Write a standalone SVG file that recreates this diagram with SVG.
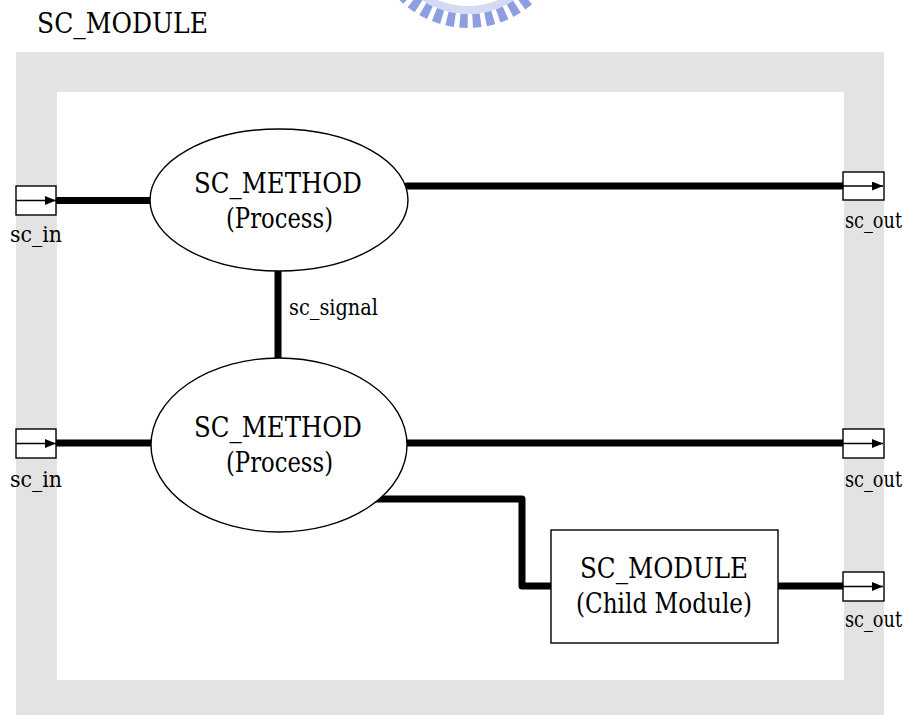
<svg xmlns="http://www.w3.org/2000/svg" width="910" height="715" viewBox="0 0 910 715">
  <style>
    text { font-family: "DejaVu Serif", "Liberation Serif", serif; fill: #000; }
    .big { font-size: 27px; }
    .small { font-size: 22px; }
    .shape { fill: #fff; stroke: #000; stroke-width: 1.4; }
    .port { fill: #fff; stroke: #000; stroke-width: 1.4; }
    .portline { stroke: #000; stroke-width: 1.4; fill: none; marker-end: url(#tip); }
    .wire { stroke: #000; stroke-width: 7; fill: none; stroke-linecap: round; stroke-linejoin: round; }
  </style>
  <defs>
    <marker id="tip" viewBox="0 0 11 9" refX="11" refY="4.5" markerWidth="11" markerHeight="9" markerUnits="userSpaceOnUse" orient="auto">
      <path d="M0,0 L11,4.5 L0,9 z" fill="#000"/>
    </marker>
  </defs>

  <rect width="910" height="715" fill="#fff"/>

  <!-- partial emblem at the top edge -->
  <g id="emblem" fill="none">
    <circle cx="468" cy="-70" r="80" stroke="#d3daf3" stroke-width="8"/>
    <circle cx="468" cy="-70" r="91" stroke="#8d9fe0" stroke-width="14" stroke-dasharray="8 5"/>
  </g>

  <!-- module frame -->
  <g id="module">
    <rect x="16" y="52" width="868" height="663" fill="#e3e3e3"/>
    <rect x="57" y="92" width="787" height="588" fill="#fff"/>
    <text class="big" x="37" y="33" textLength="171" lengthAdjust="spacingAndGlyphs">SC_MODULE</text>
  </g>

  <!-- connectors -->
  <g id="connectors">
    <line class="wire" x1="52" y1="200.5" x2="150" y2="200.5"/>
    <line class="wire" x1="407" y1="186" x2="844" y2="186"/>
    <line class="wire" x1="278" y1="272" x2="278" y2="358"/>
    <line class="wire" x1="52" y1="443" x2="151" y2="443"/>
    <line class="wire" x1="406" y1="443" x2="844" y2="443"/>
    <polyline class="wire" points="375,499 522,499 522,586 551,586"/>
    <line class="wire" x1="778" y1="586" x2="844" y2="586"/>
    <text class="small" x="289" y="315" textLength="89" lengthAdjust="spacingAndGlyphs">sc_signal</text>
  </g>

  <!-- processes -->
  <g id="method1">
    <ellipse class="shape" cx="279" cy="200" rx="129" ry="71"/>
    <text class="big" x="194" y="193" textLength="168" lengthAdjust="spacingAndGlyphs">SC_METHOD</text>
    <text class="big" x="226" y="228" textLength="107" lengthAdjust="spacingAndGlyphs">(Process)</text>
  </g>
  <g id="method2">
    <ellipse class="shape" cx="279" cy="445" rx="128" ry="87"/>
    <text class="big" x="194" y="437" textLength="168" lengthAdjust="spacingAndGlyphs">SC_METHOD</text>
    <text class="big" x="226" y="472" textLength="107" lengthAdjust="spacingAndGlyphs">(Process)</text>
  </g>

  <!-- child module -->
  <g id="child">
    <rect class="shape" x="551" y="530" width="227" height="113"/>
    <text class="big" x="580" y="578" textLength="168" lengthAdjust="spacingAndGlyphs">SC_MODULE</text>
    <text class="big" x="576" y="613" textLength="176" lengthAdjust="spacingAndGlyphs">(Child Module)</text>
  </g>

  <!-- ports -->
  <g id="in1">
    <rect class="port" x="16" y="186" width="40" height="29"/>
    <line class="portline" x1="16" y1="200.5" x2="56" y2="200.5"/>
    <text class="small" x="10" y="242" textLength="52" lengthAdjust="spacingAndGlyphs">sc_in</text>
  </g>
  <g id="in2">
    <rect class="port" x="16" y="429" width="40" height="29"/>
    <line class="portline" x1="16" y1="443.5" x2="56" y2="443.5"/>
    <text class="small" x="10" y="487" textLength="52" lengthAdjust="spacingAndGlyphs">sc_in</text>
  </g>
  <g id="out1">
    <rect class="port" x="843" y="172" width="41" height="28"/>
    <line class="portline" x1="843" y1="186" x2="883" y2="186"/>
    <text class="small" x="845" y="228" textLength="57" lengthAdjust="spacingAndGlyphs">sc_out</text>
  </g>
  <g id="out2">
    <rect class="port" x="843" y="429" width="41" height="29"/>
    <line class="portline" x1="843" y1="443.5" x2="883" y2="443.5"/>
    <text class="small" x="845" y="487" textLength="57" lengthAdjust="spacingAndGlyphs">sc_out</text>
  </g>
  <g id="out3">
    <rect class="port" x="843" y="572" width="41" height="29"/>
    <line class="portline" x1="843" y1="586.5" x2="883" y2="586.5"/>
    <text class="small" x="845" y="627" textLength="57" lengthAdjust="spacingAndGlyphs">sc_out</text>
  </g>
</svg>
